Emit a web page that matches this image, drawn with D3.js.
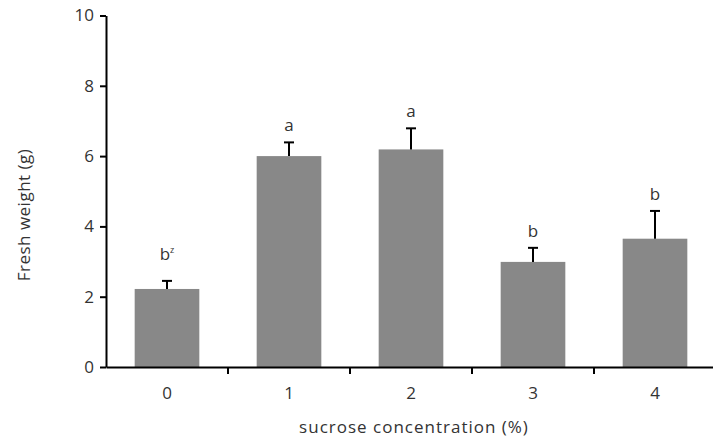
<!DOCTYPE html>
<html>
<head>
<meta charset="utf-8">
<script src="https://cdn.jsdelivr.net/npm/d3@7"></script>
<style>
  body { margin: 0; background: #fff; }
  text { font-family: "Open Sans", "Noto Sans", sans-serif; fill: #333; }
</style>
</head>
<body>
<script>
// chart data
const categories = ["0", "1", "2", "3", "4"];
const means = [2.22, 6.0, 6.19, 2.99, 3.65];
const errors = [0.23, 0.39, 0.6, 0.4, 0.79];
const letters = ["b", "a", "a", "b", "b"];
const yTicks = [0, 2, 4, 6, 8, 10];

const w = 713, h = 445;
const mLeft = 106, mRight = 716, mTop = 15.5, mBottom = 367;
const fontSize = 17;

let svg = d3.select("body").append("svg")
  .attr("width", w)
  .attr("height", h);

let xScale = d3.scaleBand()
  .domain(categories)
  .range([mLeft, mRight])
  .paddingInner(0.47)
  .paddingOuter(0.235);

let yScale = d3.scaleLinear()
  .domain([0, 10])
  .range([mBottom, mTop]);

// bars
svg.selectAll("rect.bar")
  .data(means)
  .enter()
  .append("rect")
  .attr("class", "bar")
  .attr("x", (d, i) => xScale(categories[i]))
  .attr("y", d => yScale(d))
  .attr("width", xScale.bandwidth())
  .attr("height", d => mBottom - yScale(d))
  .attr("fill", "#888888");

// error bars (upper only)
let err = svg.append("g").attr("stroke", "#000").attr("stroke-width", 2);
means.forEach(function(d, i) {
  const cx = xScale(categories[i]) + xScale.bandwidth() / 2;
  err.append("line")
    .attr("x1", cx).attr("x2", cx)
    .attr("y1", yScale(d)).attr("y2", yScale(d + errors[i]));
  err.append("line")
    .attr("x1", cx - 5).attr("x2", cx + 5)
    .attr("y1", yScale(d + errors[i])).attr("y2", yScale(d + errors[i]));
});

// significance letters
means.forEach(function(d, i) {
  const cx = xScale(categories[i]) + xScale.bandwidth() / 2;
  // first label sits a bit higher in the original
  const gap = i === 0 ? 21 : 11;
  let t = svg.append("text")
    .attr("x", cx)
    .attr("y", yScale(d + errors[i]) - gap)
    .attr("text-anchor", "middle")
    .style("font-size", fontSize + "px")
    .text(letters[i]);
  if (i === 0) {
    t.append("tspan")
      .attr("dy", -7)
      .style("font-size", "9px")
      .text("z");
  }
});

// y axis
svg.append("g")
  .attr("transform", "translate(" + mLeft + ",0)")
  .call(d3.axisLeft(yScale).tickValues(yTicks).tickSize(6).tickSizeOuter(0).tickPadding(6));

// x axis with ticks between categories
let xAxis = svg.append("g")
  .attr("transform", "translate(0," + mBottom + ")")
  .call(d3.axisBottom(xScale).tickSize(0).tickSizeOuter(0).tickPadding(20));

const step = xScale.step();
xAxis.selectAll("line.sep")
  .data(d3.range(1, categories.length))
  .enter()
  .append("line")
  .attr("class", "sep")
  .attr("x1", i => mLeft + i * step)
  .attr("x2", i => mLeft + i * step)
  .attr("y1", 0).attr("y2", 7)
  .attr("stroke", "#000")
  .attr("stroke-width", 2);

svg.selectAll(".domain, .tick line")
  .attr("stroke", "#000")
  .attr("stroke-width", 2);
svg.selectAll(".tick text")
  .style("font-size", fontSize + "px")
  .style("font-family", "'Open Sans', 'Noto Sans', sans-serif")
  .attr("fill", "#333");

// axis titles
svg.append("text")
  .attr("x", 414)
  .attr("y", 433)
  .attr("text-anchor", "middle")
  .style("font-size", fontSize + "px")
  .style("letter-spacing", "1px")
  .text("sucrose concentration (%)");

svg.append("text")
  .attr("transform", "translate(30,215) rotate(-90)")
  .attr("text-anchor", "middle")
  .style("font-size", fontSize + "px")
  .style("letter-spacing", "0.5px")
  .text("Fresh weight (g)");
</script>
</body>
</html>
